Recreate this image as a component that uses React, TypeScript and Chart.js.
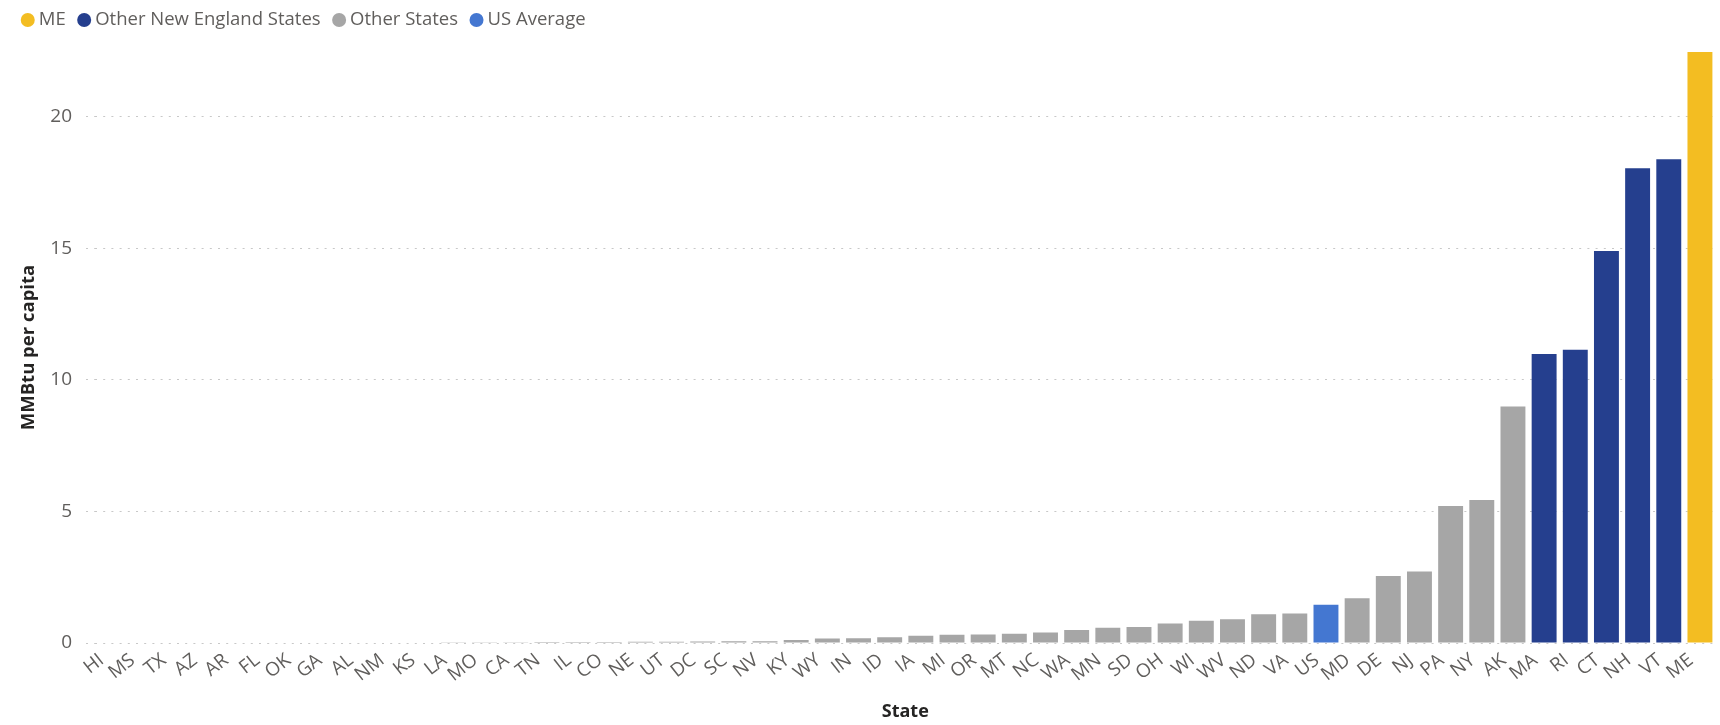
import React, { useEffect, useRef } from "react";
import { Chart, registerables } from "chart.js";

Chart.register(...registerables);

const states = [
  "HI", "MS", "TX", "AZ", "AR", "FL", "OK", "GA", "AL", "NM", "KS", "LA", "MO",
  "CA", "TN", "IL", "CO", "NE", "UT", "DC", "SC", "NV", "KY", "WY", "IN", "ID",
  "IA", "MI", "OR", "MT", "NC", "WA", "MN", "SD", "OH", "WI", "WV", "ND", "VA",
  "US", "MD", "DE", "NJ", "PA", "NY", "AK", "MA", "RI", "CT", "NH", "VT", "ME",
];

const values = [
  0, 0, 0, 0, 0, 0, 0, 0, 0, 0, 0.02, 0.025, 0.03,
  0.03, 0.035, 0.04, 0.04, 0.045, 0.05, 0.06, 0.065, 0.07, 0.11, 0.17, 0.18, 0.22,
  0.28, 0.31, 0.32, 0.35, 0.4, 0.49, 0.58, 0.61, 0.74, 0.85, 0.9, 1.09, 1.12,
  1.45, 1.7, 2.55, 2.72, 5.21, 5.44, 8.99, 10.99, 11.15, 14.9, 18.05, 18.39, 22.47,
];

const groupNames = ["ME", "Other New England States", "Other States", "US Average"];
const groupColors = ["#F3BD22", "#253F8E", "#A6A6A6", "#4477D1"];
const maineStates = ["ME"];
const otherNewEngland = ["MA", "RI", "CT", "NH", "VT"];
const usAverage = ["US"];
const yTickStep = 5;

const xTitle = "State";
const yTitle = "MMBtu per capita";

const FONT = "'Open Sans', 'Noto Sans', sans-serif";

function groupOf(s: string): number {
  if (maineStates.includes(s)) return 0;
  if (otherNewEngland.includes(s)) return 1;
  if (usAverage.includes(s)) return 3;
  return 2;
}

const legendHeightPlugin = {
  id: "legendHeight",
  beforeInit(chart: any) {
    const lg = chart.legend;
    if (!lg) return;
    const orig = lg.fit;
    lg.fit = function () {
      orig.call(this);
      this.height = 58;
    };
  },
};

export default function App() {
  const ref = useRef<HTMLCanvasElement | null>(null);

  useEffect(() => {
    if (!ref.current) return;
    const colors = states.map((s) => groupColors[groupOf(s)]);
    const chart = new Chart(ref.current, {
      type: "bar",
      data: {
        labels: states,
        datasets: [
          {
            label: "MMBtu per capita",
            data: values,
            backgroundColor: colors,
            borderWidth: 0,
            barPercentage: 0.8,
            categoryPercentage: 1,
          },
        ],
      },
      plugins: [legendHeightPlugin],
      options: {
        animation: false,
        responsive: false,
        devicePixelRatio: 1,
        layout: { padding: { top: -6, left: 9.25, right: 2.6, bottom: 0 } },
        plugins: {
          tooltip: { enabled: false },
          legend: {
            display: true,
            position: "top",
            align: "start",
            labels: {
              usePointStyle: true,
              pointStyle: "circle",
              boxWidth: 3.5,
              boxHeight: 9.9,
              padding: 16.75,
              color: "#605E5C",
              font: { family: FONT, size: 18.5 },
              generateLabels: () =>
                groupNames.map((name, i) => ({
                  text: name,
                  fillStyle: groupColors[i],
                  strokeStyle: groupColors[i],
                  fontColor: "#605E5C",
                  lineWidth: 0,
                  pointStyle: "circle",
                  hidden: false,
                  datasetIndex: 0,
                })),
            },
          },
        },
        scales: {
          x: {
            offset: true,
            grid: { display: false, drawTicks: false },
            border: { display: false },
            ticks: {
              autoSkip: false,
              minRotation: 38,
              maxRotation: 38,
              padding: 6,
              labelOffset: -9,
              color: "#605E5C",
              font: { family: FONT, size: 19 },
            },
            title: {
              display: true,
              text: xTitle,
              color: "#252423",
              font: { family: FONT, size: 18, weight: "bold" },
              padding: { top: 0, bottom: 2 },
            },
            afterFit: (s: any) => {
              s.height = 82;
            },
          },
          y: {
            min: 0,
            max: Math.max(...values),
            grid: {
              color: "#C8C8C8",
              lineWidth: 1,
              drawTicks: true,
              tickLength: 9,
              tickColor: "#C8C8C8",
              tickBorderDash: [2, 6.2],
            },
            border: { display: false, dash: [2, 6.2] },
            ticks: {
              stepSize: yTickStep,
              includeBounds: false,
              padding: 14,
              color: "#605E5C",
              font: { family: FONT, size: 19 },
            },
            title: {
              display: true,
              text: yTitle,
              color: "#252423",
              font: { family: FONT, size: 18.5, weight: "bold" },
              padding: { top: 8.5, bottom: 0 },
            },
            afterFit: (s: any) => {
              s.width = 85.75;
            },
          },
        },
      },
    } as any);
    return () => chart.destroy();
  }, []);

  return (
    <div style={{ position: "fixed", left: 0, top: 0, width: 1720, height: 725, background: "#fff" }}>
      <canvas ref={ref} width={1720} height={725} />
    </div>
  );
}
